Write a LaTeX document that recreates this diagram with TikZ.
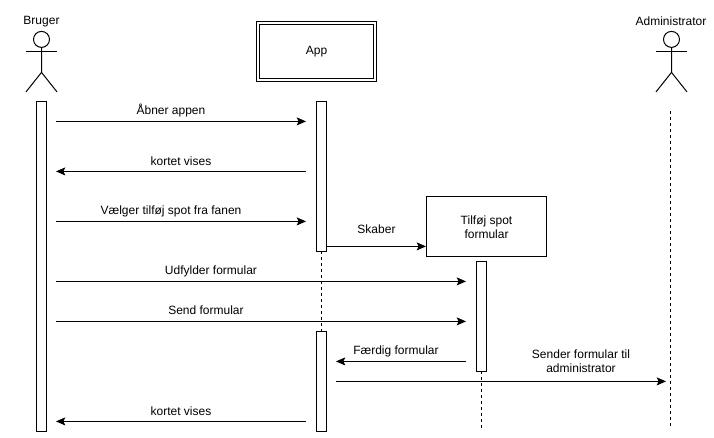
\documentclass[tikz,border=0pt]{standalone}
\usepackage{fontspec}
\setmainfont{Liberation Sans}
\usetikzlibrary{arrows.meta}
\tikzset{
    lbl/.style={inner sep=0pt, align=center, font=\fontsize{9}{10.5}\selectfont},
    bar/.style={draw, line width=0.75pt, fill=white, inner sep=0pt, minimum width=7.5pt},
    box/.style={draw, line width=0.75pt, inner sep=0pt, align=center, font=\fontsize{9}{10.5}\selectfont},
    msg/.style={line width=0.75pt, -{Stealth[length=7pt, width=6pt, inset=1.5pt]}},
    life/.style={line width=0.75pt, dash pattern=on 2.25pt off 2.25pt},
}
\begin{document}
\begin{tikzpicture}[x=0.75pt, y=-0.75pt]
            \useasboundingbox (0,-0.4) rectangle (714,437.6);
            \foreach \name/\x/\y in {a1/56/121, b1/306/121, a2/306/171, b2/56/171, a3/56/221, b3/306/221,
                a4/326/246, b4/426/246, a5/56/281, b5/466/281, a6/56/321, b6/466/321, a7/466/361, b7/336/361,
                a8/336/381, b8/666/381, a9/306/421, b9/56/421, adminTop/670.5/111, adminEnd/670.5/428, spotEnd/481.5/428}
                \coordinate (\name) at (\x,\y);
            \foreach \name/\x in {bruger/41.5, admin/671.5} {
                \node[draw, circle, line width=0.75pt, inner sep=0pt, minimum size=12pt] (\name Head) at (\x,39) {};
                \draw[line width=0.75pt] (\name Head.south) -- ++(0,24.5) coordinate (\name Hip) -- ++(-15.5,19.5);
                \draw[line width=0.75pt] (\name Hip) -- ++(15.5,19.5);
                \draw[line width=0.75pt] (\x-15.5,51) -- (\x+15.5,51);
            }
            \node[lbl] (bruger) at (41.5,21) {Bruger};
            \node[lbl] (admin) at (671,21) {Administrator};
            \node[box, double, double distance=1.5pt, minimum width=87.75pt, minimum height=42.75pt] (app) at (316.5,51.5) {App};
            \node[box, minimum width=90pt, minimum height=45pt] (spot) at (486.5,226.5) {Tilføj spot\\formular};
            \draw[life] (adminTop) -- (adminEnd);
            \draw[life] (481.5,371) -- (spotEnd);
            \draw[life] (321.5,251) -- (321.5,331);
            \node[bar, minimum height=247.5pt] (brugerBar) at (41.5,266) {};
            \node[bar, minimum height=112.5pt] (appBarA) at (321.5,176) {};
            \node[bar, minimum height=75pt] (appBarB) at (321.5,381) {};
            \node[bar, minimum height=82.5pt] (spotBar) at (481.5,316) {};
            \draw[msg] (a1) -- (b1);
            \draw[msg] (a2) -- (b2);
            \draw[msg] (a3) -- (b3);
            \draw[msg] (a4) -- (b4);
            \draw[msg] (a5) -- (b5);
            \draw[msg] (a6) -- (b6);
            \draw[msg] (a7) -- (b7);
            \draw[msg] (a8) -- (b8);
            \draw[msg] (a9) -- (b9);
            \node[lbl] (l1) at (171,110.5) {Åbner appen};
            \node[lbl] (l2) at (181,161) {kortet vises};
            \node[lbl] (l3) at (171,211) {Vælger tilføj spot fra fanen};
            \node[lbl] (l4) at (376.5,229) {Skaber};
            \node[lbl] (l5) at (211,271) {Udfylder formular};
            \node[lbl] (l6) at (206,310) {Send formular};
            \node[lbl] (l7) at (396,351) {Færdig formular};
            \node[lbl] (l8) at (581,361) {Sender formular til\\administrator};
            \node[lbl] (l9) at (181,411) {kortet vises};
\end{tikzpicture}
\end{document}
